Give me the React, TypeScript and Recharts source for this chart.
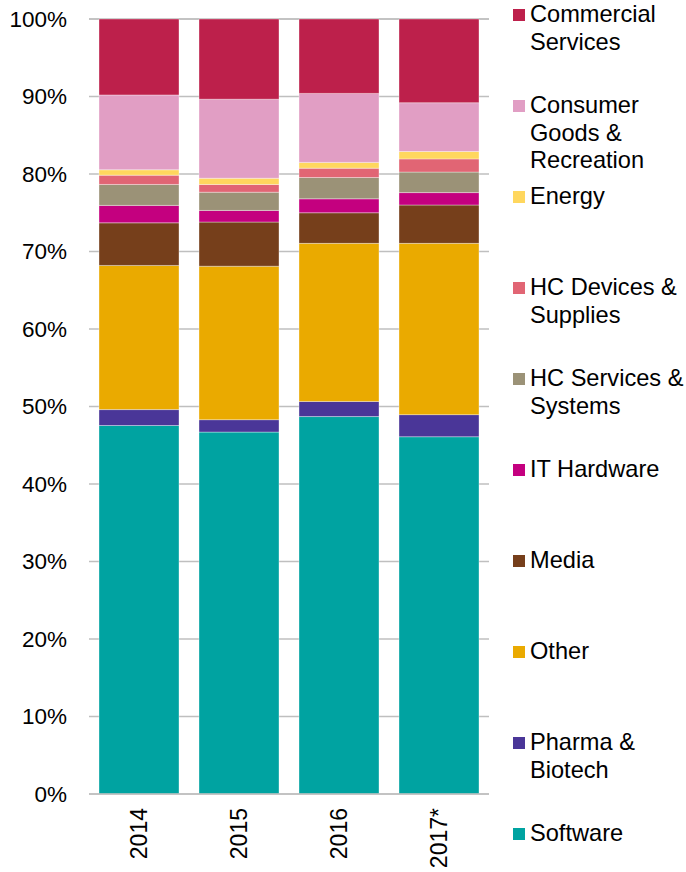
import React from "react";
import { BarChart, Bar, XAxis, YAxis, CartesianGrid } from "recharts";

const categories = ["2014", "2015", "2016", "2017*"];

const software = [47.55, 46.7, 48.7, 46.1];
const pharma = [2.05, 1.6, 1.95, 2.85];
const other = [18.6, 19.8, 20.4, 22.1];
const media = [5.5, 5.7, 3.95, 4.95];
const itHardware = [2.25, 1.5, 1.8, 1.6];
const hcServices = [2.7, 2.35, 2.75, 2.65];
const hcDevices = [1.2, 1.0, 1.2, 1.7];
const energy = [0.7, 0.8, 0.75, 0.95];
const consumer = [9.65, 10.2, 8.9, 6.3];
const commercial = [9.8, 10.35, 9.6, 10.8];

const yTicks = [0, 10, 20, 30, 40, 50, 60, 70, 80, 90, 100];

// bottom-to-top stacking order
const series = [
  { key: "software", name: "Software", lines: ["Software"], values: software, color: "#00A3A1" },
  { key: "pharma", name: "Pharma & Biotech", lines: ["Pharma &", "Biotech"], values: pharma, color: "#4A3698" },
  { key: "other", name: "Other", lines: ["Other"], values: other, color: "#EAAA00" },
  { key: "media", name: "Media", lines: ["Media"], values: media, color: "#763F1B" },
  { key: "it", name: "IT Hardware", lines: ["IT Hardware"], values: itHardware, color: "#C4007F" },
  { key: "hcs", name: "HC Services & Systems", lines: ["HC Services &", "Systems"], values: hcServices, color: "#9B9277" },
  { key: "hcd", name: "HC Devices & Supplies", lines: ["HC Devices &", "Supplies"], values: hcDevices, color: "#E16574" },
  { key: "energy", name: "Energy", lines: ["Energy"], values: energy, color: "#FFD75E" },
  { key: "consumer", name: "Consumer Goods & Recreation", lines: ["Consumer", "Goods &", "Recreation"], values: consumer, color: "#E19EC4" },
  { key: "commercial", name: "Commercial Services", lines: ["Commercial", "Services"], values: commercial, color: "#BD204B" },
];

const data = categories.map((c, i) => {
  const row: Record<string, string | number> = { name: c };
  series.forEach((s) => {
    row[s.key] = s.values[i];
  });
  return row;
});

const FONT = "'Liberation Sans', Arial, Helvetica, sans-serif";

const XTick = (props: any) => {
  const { x, y, payload } = props;
  return (
    <g transform={`translate(${x},${y + 14})`}>
      <text
        x={0}
        y={0}
        dy="0.36em"
        transform="rotate(-90)"
        textAnchor="end"
        fill="#000"
        fontSize={23}
        fontFamily={FONT}
      >
        {payload.value}
      </text>
    </g>
  );
};

const legendItems = [...series].reverse();

export default function App() {
  return (
    <div style={{ position: "absolute", left: 0, top: 0, width: 686, height: 872, background: "#fff" }}>
      <BarChart
        width={686}
        height={872}
        data={data}
        margin={{ top: 19, right: 197, bottom: 0, left: 0 }}
        barCategoryGap="10%"
      >
        <CartesianGrid vertical={false} stroke="#BFBFBF" strokeWidth={1.5} />
        <XAxis
          dataKey="name"
          height={78}
          tickLine={false}
          tickSize={0}
          tickMargin={0}
          axisLine={{ stroke: "#BFBFBF", strokeWidth: 1.5 }}
          tick={<XTick />}
          interval={0}
        />
        <YAxis
          width={89}
          domain={[0, 100]}
          ticks={yTicks}
          tickFormatter={(v: number) => `${v}%`}
          axisLine={false}
          tickLine={false}
          tickSize={0}
          tickMargin={22}
          tick={{ fill: "#000", fontSize: 22.5, fontFamily: FONT }}
          interval={0}
        />
        {series.map((s) => (
          <Bar
            key={s.key}
            dataKey={s.key}
            name={s.name}
            stackId="a"
            fill={s.color}
            stroke="#ffffff"
            strokeOpacity={0.35}
            strokeWidth={1}
            isAnimationActive={false}
          />
        ))}
      </BarChart>
      {legendItems.map((s, i) => {
        const center = 15 + i * 91;
        const lh = 27.5;
        return (
          <div key={s.key}>
            <div
              style={{
                position: "absolute",
                left: 513,
                top: center - 6,
                width: 12,
                height: 12,
                background: s.color,
              }}
            />
            <div
              style={{
                position: "absolute",
                left: 530,
                top: center - lh / 2,
                fontFamily: FONT,
                fontSize: 23.6,
                lineHeight: `${lh}px`,
                color: "#000",
                whiteSpace: "nowrap",
              }}
            >
              {s.lines.map((l, j) => (
                <div key={j}>{l}</div>
              ))}
            </div>
          </div>
        );
      })}
    </div>
  );
}
